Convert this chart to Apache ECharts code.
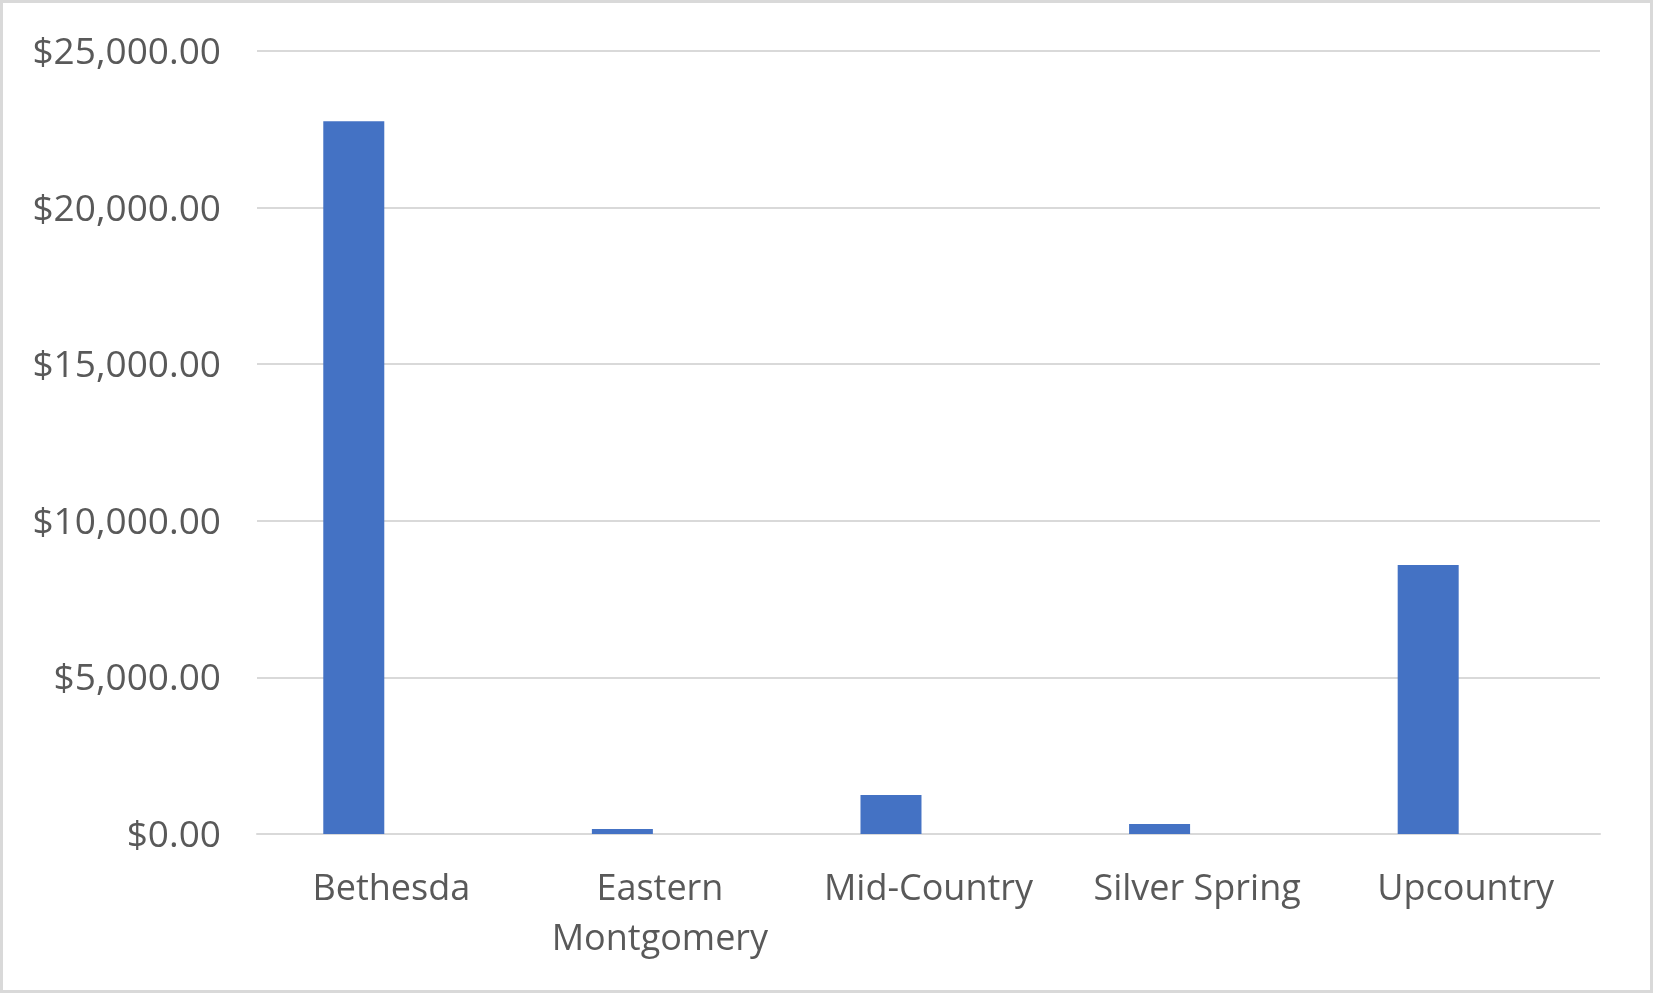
<!DOCTYPE html>
<html>
<head>
<meta charset="utf-8">
<script src="https://cdn.jsdelivr.net/npm/echarts@6/dist/echarts.min.js"></script>
<style>
html,body{margin:0;padding:0;background:#fff;}
#c{width:1653px;height:993px;box-sizing:border-box;border:3px solid #D9D9D9;}
</style>
</head>
<body>
<div id="c"></div>
<script>
var categories = ['Bethesda', 'Eastern Montgomery', 'Mid-Country', 'Silver Spring', 'Upcountry'];
var values = [22760, 160, 1245, 320, 8590];
var emptySeries = [null, null, null, null, null];
var yMin = 0, yMax = 25000, yInterval = 5000;

var chart = echarts.init(document.getElementById('c'));
var font = '"Open Sans", "Noto Sans", sans-serif';
chart.setOption({
  animation: false,
  grid: { left: 254, right: 50, top: 48, bottom: 156, containLabel: false },
  xAxis: {
    type: 'category',
    data: categories,
    axisTick: { show: false },
    axisLine: { lineStyle: { color: '#D9D9D9', width: 2 } },
    axisLabel: {
      color: '#595959', fontFamily: font, fontSize: 36, margin: 31,
      lineHeight: 50, interval: 0, align: 'center',
      formatter: function (v) { return v.length > 14 ? v.split(' ').join('\n') : v; }
    }
  },
  yAxis: {
    type: 'value', min: yMin, max: yMax, interval: yInterval,
    axisLine: { show: false }, axisTick: { show: false },
    splitLine: { lineStyle: { color: '#D9D9D9', width: 2 } },
    axisLabel: {
      color: '#595959', fontFamily: font, fontSize: 37, margin: 36,
      formatter: function (v) {
        return '{a|$' + v.toLocaleString('en-US', { minimumFractionDigits: 2, maximumFractionDigits: 2 }) + '}';
      },
      rich: { a: { color: '#595959', fontFamily: font, fontSize: 37, padding: [5, 0, 0, 0] } }
    }
  },
  series: [
    { type: 'bar', data: values, barWidth: 61, barGap: '23%', itemStyle: { color: '#4472C4' } },
    { type: 'bar', data: emptySeries, barWidth: 61, itemStyle: { color: '#ED7D31' } }
  ]
});
</script>
</body>
</html>
